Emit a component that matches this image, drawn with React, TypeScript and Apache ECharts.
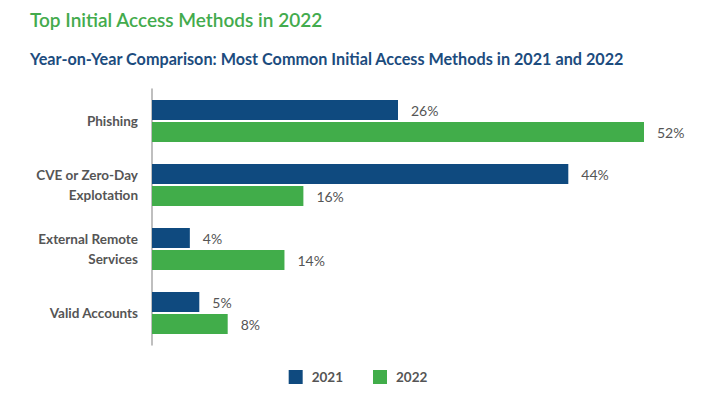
import React, { useEffect, useRef } from "react";
import * as echarts from "echarts";

const categories = ["Phishing", "CVE or Zero-Day\nExplotation", "External Remote\nServices", "Valid Accounts"];
const values2021 = [26, 44, 4, 5];
const values2022 = [52, 16, 14, 8];
const seriesNames = ["2021", "2022"];
const titleText = "Top Initial Access Methods in 2022";
const subtitleText = "Year-on-Year Comparison: Most Common Initial Access Methods in 2021 and 2022";

const FONT = "Lato, 'Open Sans', sans-serif";
const NAVY = "#0f4a7f";
const GREEN = "#41ad4a";

export default function App() {
  const ref = useRef<HTMLDivElement>(null);
  useEffect(() => {
    if (!ref.current) return;
    const chart = echarts.init(ref.current, null, { renderer: "svg" });
    const valueLabel = {
      show: true,
      position: "right",
      distance: 13,
      formatter: "{c}%",
      color: "#555",
      fontSize: 14,
      fontFamily: FONT,
    };
    chart.setOption({
      animation: false,
      backgroundColor: "#ffffff",
      textStyle: { fontFamily: FONT },
      title: [
        {
          text: titleText,
          left: 25,
          top: 5,
          textStyle: { color: "#43ab4d", fontSize: 19, fontWeight: 600, fontFamily: FONT },
        },
        {
          text: subtitleText,
          left: 25,
          top: 45,
          textStyle: { color: "#1c4c7e", fontSize: 16.2, fontWeight: "bold", fontFamily: FONT },
        },
      ],
      legend: {
        bottom: 8,
        left: "center",
        itemWidth: 14,
        itemHeight: 14,
        itemGap: 30,
        icon: "rect",
        textStyle: {
          color: "#555",
          fontSize: 13.5,
          fontWeight: "bold",
          fontFamily: FONT,
          padding: [0, 0, 0, 4],
        },
        data: seriesNames,
      },
      grid: { left: 152, right: 72, top: 89, bottom: 52, containLabel: false },
      xAxis: {
        type: "value",
        min: 0,
        max: 52,
        show: false,
      },
      yAxis: {
        type: "category",
        inverse: true,
        data: categories,
        axisLine: { show: true, lineStyle: { color: "#aaaaaa", width: 1.5 } },
        axisTick: { show: false },
        axisLabel: {
          color: "#555",
          fontSize: 13.5,
          fontWeight: "bold",
          fontFamily: FONT,
          margin: 14,
          lineHeight: 20,
          align: "right",
        },
      },
      series: [
        {
          name: seriesNames[0],
          type: "bar",
          data: values2021,
          barWidth: 20,
          barGap: "10%",
          itemStyle: { color: NAVY },
          label: valueLabel,
        },
        {
          name: seriesNames[1],
          type: "bar",
          data: values2022,
          barWidth: 20,
          barGap: "10%",
          itemStyle: { color: GREEN },
          label: valueLabel,
        },
      ],
    });
    return () => chart.dispose();
  }, []);
  return (
    <div
      ref={ref}
      style={{ position: "absolute", left: 0, top: 0, width: 716, height: 397 }}
    />
  );
}
